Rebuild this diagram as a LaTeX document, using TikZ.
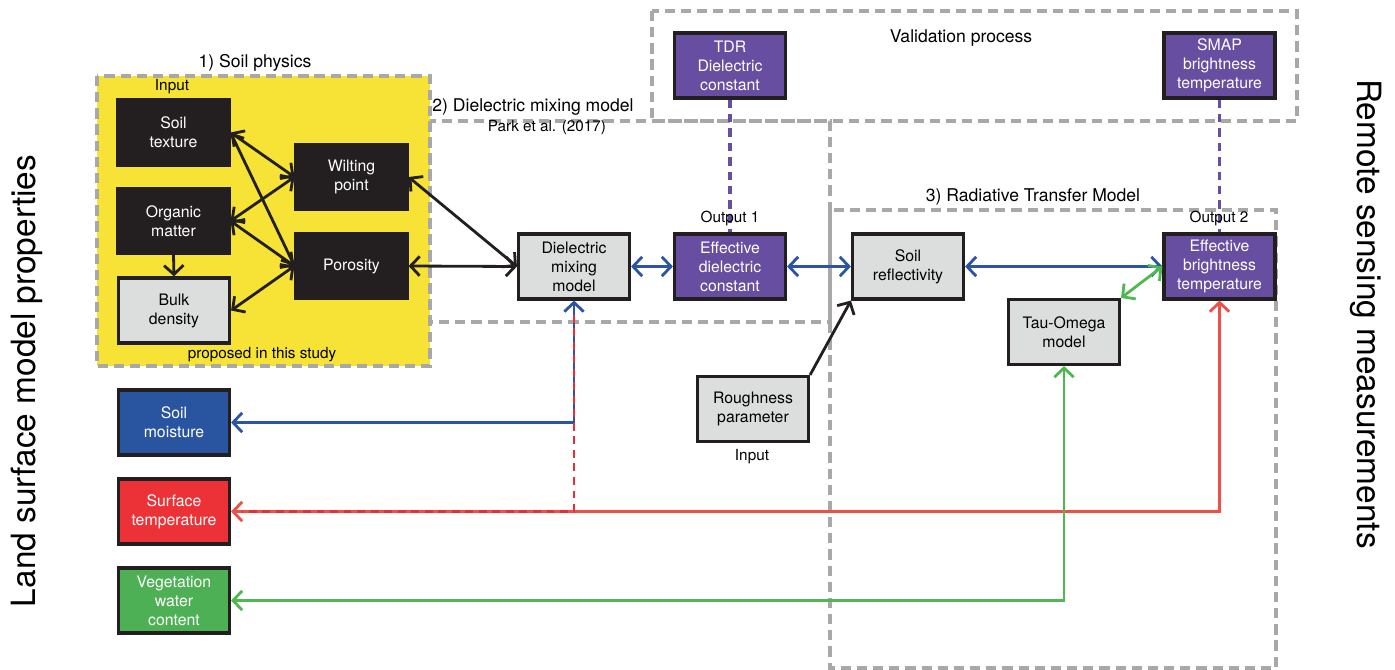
\documentclass[tikz,border=0pt]{standalone}
\usepackage{fontspec}
\setmainfont{TeX Gyre Heros}
\usetikzlibrary{arrows.meta}

\definecolor{boxblack}{RGB}{35,31,32}
\definecolor{boxgray}{RGB}{220,221,221}
\definecolor{boxpurple}{RGB}{104,78,160}
\definecolor{boxblue}{RGB}{41,84,159}
\definecolor{boxred}{RGB}{237,50,55}
\definecolor{boxgreen}{RGB}{78,176,84}
\definecolor{soilyellow}{RGB}{246,227,54}
\definecolor{framegray}{RGB}{168,168,168}
\definecolor{lnblue}{RGB}{43,84,164}
\definecolor{lnred}{RGB}{240,78,70}
\definecolor{lnreddash}{RGB}{232,44,56}
\definecolor{lngreen}{RGB}{80,184,80}
\definecolor{lnpurple}{RGB}{104,78,160}

\tikzset{
  box/.style={draw=boxblack, line width=1.8pt, minimum width=2.22cm, minimum height=1.3cm,
    inner sep=1pt, align=center, font=\fontsize{9}{10.8}\selectfont},
  darkbox/.style={box, fill=boxblack, text=white},
  graybox/.style={box, fill=boxgray, text=black},
  purplebox/.style={box, fill=boxpurple, text=white},
  bluebox/.style={box, fill=boxblue, text=white},
  redbox/.style={box, fill=boxred, text=white},
  greenbox/.style={box, fill=boxgreen, text=white},
  region/.style={draw=framegray, line width=1.8pt, dash pattern=on 5.8pt off 3.4pt},
  title/.style={inner sep=0pt, font=\fontsize{10}{12}\selectfont},
  note/.style={inner sep=0pt, font=\fontsize{8.7}{10.5}\selectfont},
  sidelabel/.style={inner sep=0pt, font=\fontsize{19}{22}\selectfont},
  tip/.style={>={Straight Barb[length=5.2pt,width=11pt]}},
  blk/.style={tip, draw=boxblack, line width=1.6pt},
  blu/.style={tip, draw=lnblue, line width=1.6pt},
  rdl/.style={tip, draw=lnred, line width=1.6pt},
  grl/.style={tip, draw=lngreen, line width=1.6pt},
  rdash/.style={draw=lnreddash, line width=1.6pt, dash pattern=on 4.5pt off 3.2pt},
  pdash/.style={draw=lnpurple, line width=1.8pt, dash pattern=on 4.8pt off 3.4pt},
}

\begin{document}
\begin{tikzpicture}[x=0.02cm, y=-0.02cm]
\useasboundingbox (0,0) rectangle (1395,669);

% process regions
\fill[soilyellow] (97,76) rectangle (430,366);
\draw[region] (97,76) rectangle (430,366);
\draw[region] (430,121) rectangle (830,322);
\draw[region] (652,11) rectangle (1297,121);
\draw[region] (830,210) rectangle (1276,668);

% region titles and labels
\node[title] (tsoil) at (255,63) {1) Soil physics};
\node[note] (tinput) at (172,87) {Input};
\node[note] (tproposed) at (262,355) {proposed in this study};
\node[title] (tdmm) at (533,107) {2) Dielectric mixing model};
\node[note] (tpark) at (547,128) {Park et al. (2017)};
\node[title] (tvalid) at (961,38) {Validation process};
\node[title] (trtm) at (1033,197) {3) Radiative Transfer Model};

% soil physics
\node[darkbox] (soiltex) at (173.5,132.5) {Soil\\texture};
\node[darkbox] (organic) at (173.5,221) {Organic\\matter};
\node[graybox] (bulk) at (174,310.5) {Bulk\\density};
\node[darkbox] (wilting) at (351.5,177) {Wilting\\point};
\node[darkbox] (porosity) at (351.5,266) {Porosity};

% dielectric and radiative transfer chain
\node[graybox] (dmm) at (574,266.5) {Dielectric\\mixing\\model};
\node[purplebox] (edc) at (730,266.5) {Effective\\dielectric\\constant};
\node[graybox] (refl) at (908,266.5) {Soil\\reflectivity};
\node[purplebox] (ebt) at (1219.5,266.5) {Effective\\brightness\\temperature};
\node[graybox] (tau) at (1064,332) {Tau-Omega\\model};
\node[graybox] (rough) at (753,409) {Roughness\\parameter};

% validation data
\node[purplebox] (tdr) at (730,65.5) {TDR\\Dielectric\\constant};
\node[purplebox] (smap) at (1219.5,65.5) {SMAP\\brightness\\temperature};

% land surface model states
\node[bluebox] (sm) at (174,422.5) {Soil\\moisture};
\node[redbox] (st) at (174,511.5) {Surface\\temperature};
\node[greenbox] (vwc) at (174,600.5) {Vegetation\\water\\content};

% soil physics links
\draw[blk,<->] (soiltex.east) -- (wilting.west);
\draw[blk,<->] (soiltex.east) -- (porosity.west);
\draw[blk,<->] (organic.east) -- (wilting.west);
\draw[blk,<->] (organic.east) -- (porosity.west);
\draw[blk,<->] (bulk.east) -- (porosity.west);
\draw[blk,->] (organic.south) -- (bulk.north);
\draw[blk,<->] (wilting.east) -- (dmm.west);
\draw[blk,<->] (porosity.east) -- (dmm.west);

% model chain
\draw[blu,<->] (dmm.east) -- (edc.west);
\draw[blu,<->] (edc.east) -- (refl.west);
\draw[blu,<->] (refl.east) -- (ebt.west);
\draw[grl,<->] (ebt.west) -- (tau.north east);
\draw[blk,->] (rough.north east) -- (refl.south west);

% validation links
\draw[pdash] (tdr.south) -- (edc.north);
\draw[pdash] (smap.south) -- (ebt.north);

% forcing links
\draw[rdl,<->] (st.east) -| (ebt.south);
\draw[grl,<->] (vwc.east) -| (tau.south);
\draw[blu,<->] (sm.east) -| (dmm.south);
\draw[rdash, shorten <=8pt, shorten >=6pt] (dmm.south) |- (st.east);

% output labels
\node[note] (tout1) at (730,218) {Output 1};
\node[note] (tout2) at (1219,218) {Output 2};
\node[note] (tinput2) at (752,457) {Input};

% side labels
\node[sidelabel, rotate=90] (lsm) at (27,381) {Land surface model properties};
\node[sidelabel, rotate=-90] (rsm) at (1366,314) {Remote sensing measurements};
\end{tikzpicture}
\end{document}
